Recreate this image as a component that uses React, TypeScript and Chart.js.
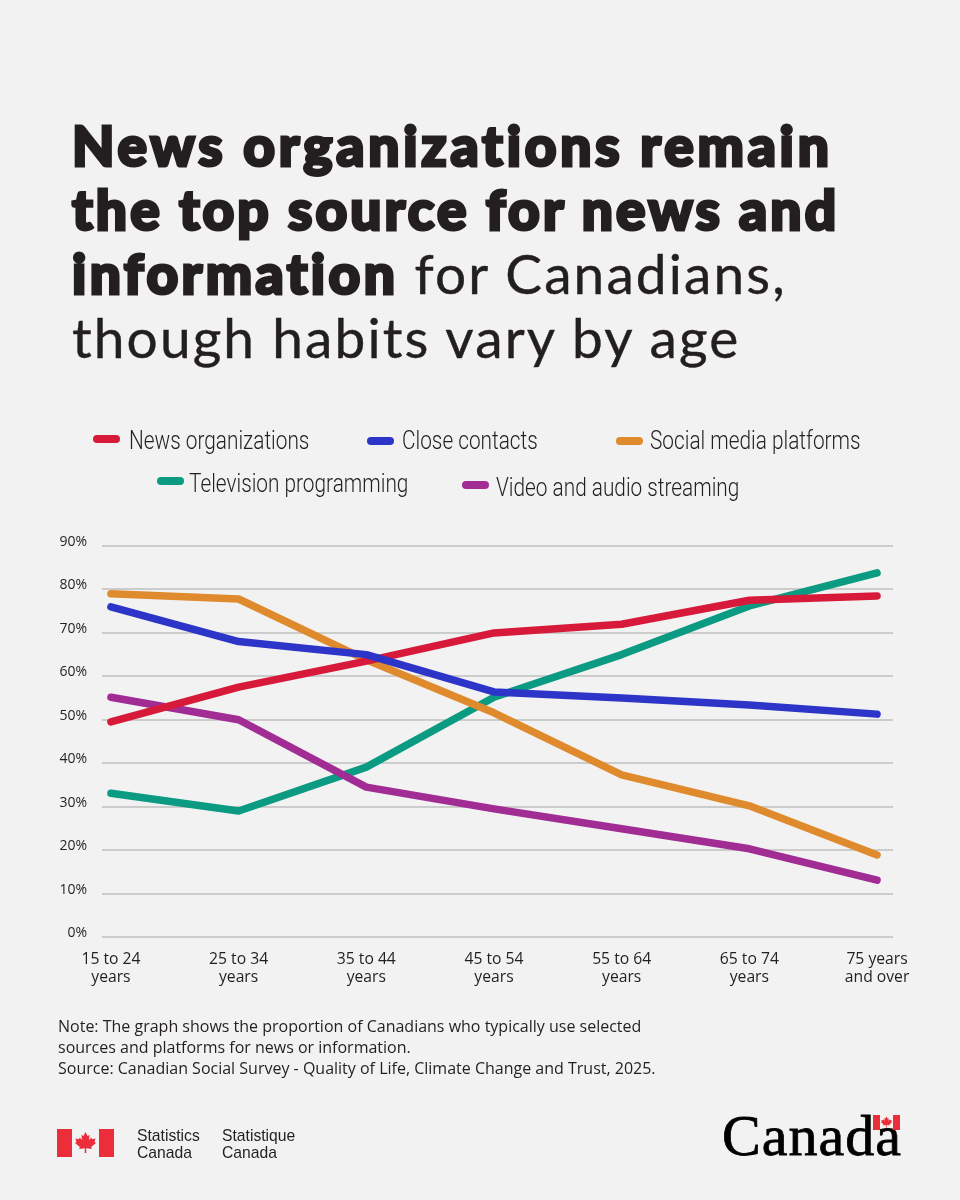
import React, { useEffect, useRef } from 'react';
import { Chart, registerables } from 'chart.js';

Chart.register(...registerables);

const ageGroups = [
  ['15 to 24', 'years'],
  ['25 to 34', 'years'],
  ['35 to 44', 'years'],
  ['45 to 54', 'years'],
  ['55 to 64', 'years'],
  ['65 to 74', 'years'],
  ['75 years', 'and over'],
];

const newsOrganizations = [49.5, 57.5, 63.5, 70, 72, 77.5, 78.5];
const closeContacts = [76, 68, 65, 56.4, 55, 53.4, 51.3];
const socialMedia = [79, 77.8, 63.8, 51.6, 37.3, 30.2, 18.9];
const television = [33.1, 29, 39.1, 55.2, 65, 76.2, 83.8];
const streaming = [55.2, 50, 34.5, 29.5, 24.9, 20.3, 13.1];

const BG = '#f2f2f2';
const TEXT = '#231f20';

// order: lower is painted on top in Chart.js
const series = [
  { label: 'News organizations', data: newsOrganizations, color: '#d71a3a', order: 1 },
  { label: 'Close contacts', data: closeContacts, color: '#2d34c8', order: 0 },
  { label: 'Social media platforms', data: socialMedia, color: '#e08a2e', order: 3 },
  { label: 'Television programming', data: television, color: '#0b9a82', order: 4 },
  { label: 'Video and audio streaming', data: streaming, color: '#a02c94', order: 2 },
];

// hand placed, the legend in the reference is not on a regular grid
const legendSpots = [
  { left: 93, top: 439, textLeft: 129, textTop: 440 },
  { left: 367, top: 441, textLeft: 402, textTop: 440 },
  { left: 616, top: 441, textLeft: 650, textTop: 440 },
  { left: 157, top: 481, textLeft: 189, textTop: 483 },
  { left: 462, top: 485, textLeft: 496, textTop: 487 },
];

const abs = (left: number, top: number): React.CSSProperties => ({ position: 'absolute', left, top });

const heavy = (spacing: number): React.CSSProperties => ({
  fontWeight: 900,
  WebkitTextStroke: '3px #231f20',
  letterSpacing: spacing,
});

const Leaf: React.FC<{ x: number; y: number; s: number }> = ({ x, y, s }) => (
  <path
    transform={`translate(${x} ${y}) scale(${s})`}
    fill="#ec2e3a"
    d="M0 -10 L2 -6.2 L4 -7.2 L3.2 -2.4 L5.6 -4.8 L6.2 -3.2 L9.6 -3.8 L8.6 -0.4 L10 0.4 L5.4 4.4 L6 6.2 L0.6 5.4 L0.8 10 L-0.8 10 L-0.6 5.4 L-6 6.2 L-5.4 4.4 L-10 0.4 L-8.6 -0.4 L-9.6 -3.8 L-6.2 -3.2 L-5.6 -4.8 L-3.2 -2.4 L-4 -7.2 L-2 -6.2 Z"
  />
);

const App: React.FC = () => {
  const chartRef = useRef<HTMLCanvasElement>(null);

  useEffect(() => {
    if (!chartRef.current) return;
    document.body.style.margin = '0';
    document.body.style.background = BG;

    const chart = new Chart(chartRef.current, {
      type: 'line',
      data: {
        datasets: series.map((s) => ({
          label: s.label,
          data: s.data.map((v, i) => ({ x: i, y: v })),
          order: s.order,
          borderColor: s.color,
          backgroundColor: s.color,
          borderWidth: 7.5,
          borderCapStyle: 'round',
          borderJoinStyle: 'round',
          pointRadius: 0,
          tension: 0,
          clip: false,
        })),
      },
      options: {
        responsive: false,
        animation: false,
        layout: { padding: { top: 546, right: 67, left: 0, bottom: 0 } },
        plugins: { legend: { display: false }, tooltip: { enabled: false } },
        scales: {
          x: {
            type: 'linear',
            min: -0.07,
            max: 6.125,
            afterBuildTicks: (axis: any) => {
              axis.ticks = ageGroups.map((_, i) => ({ value: i }));
            },
            afterFit: (axis: any) => {
              axis.height = 263;
            },
            border: { display: false },
            grid: { display: false },
            ticks: {
              autoSkip: false,
              maxRotation: 0,
              padding: 5,
              color: TEXT,
              font: { family: 'Open Sans', size: 15.7, lineHeight: 1.15 },
              callback: (v: any) => ageGroups[v as number],
            },
          },
          y: {
            min: 0,
            max: 90,
            afterFit: (axis: any) => {
              axis.width = 102;
            },
            border: { display: false },
            grid: { color: '#cccccc', lineWidth: 2, drawTicks: false },
            ticks: {
              stepSize: 10,
              padding: 15,
              labelOffset: -4,
              color: TEXT,
              font: { family: 'Open Sans', size: 14 },
              callback: (v: any) => `${v}%`,
            },
          },
        },
      },
    });

    return () => chart.destroy();
  }, []);

  return (
    <div style={{ position: 'relative', width: 960, height: 1200, background: BG, overflow: 'hidden', color: TEXT }}>
      <canvas ref={chartRef} width={960} height={1200} style={{ ...abs(0, 0), display: 'block' }} />

      <div
        style={{
          ...abs(72, 113),
          width: 860,
          fontFamily: 'Lato',
          fontSize: 55,
          lineHeight: '64px',
          letterSpacing: 2.1,
          WebkitTextStroke: '0.4px #231f20',
          whiteSpace: 'nowrap',
        }}
      >
        <span style={heavy(3.8)}>News organizations remain</span>
        <br />
        <span style={heavy(3.1)}>the top source for news and</span>
        <br />
        <span style={heavy(3.4)}>information</span> for Canadians,
        <br />
        though habits vary by age
      </div>

      {series.map((s, i) => (
        <React.Fragment key={s.label}>
          <div style={{ ...abs(legendSpots[i].left, legendSpots[i].top - 4), width: 27, height: 8, borderRadius: 4, background: s.color }} />
          <div
            style={{
              ...abs(legendSpots[i].textLeft, legendSpots[i].textTop - 15),
              fontFamily: 'Roboto',
              fontWeight: 300,
              fontSize: 26,
              lineHeight: '30px',
              whiteSpace: 'nowrap',
              transform: 'scaleX(0.8)',
              transformOrigin: 'left center',
            }}
          >
            {s.label}
          </div>
        </React.Fragment>
      ))}

      <div style={{ ...abs(58, 1016), fontFamily: 'Open Sans', fontSize: 16, lineHeight: '21px', whiteSpace: 'nowrap' }}>
        Note: The graph shows the proportion of Canadians who typically use selected
        <br />
        sources and platforms for news or information.
        <br />
        Source: Canadian Social Survey - Quality of Life, Climate Change and Trust, 2025.
      </div>

      <svg style={abs(57, 1129)} width={58} height={29} viewBox="0 0 58 29">
        <rect x={0} y={0} width={15} height={28} fill="#ec2e3a" />
        <rect x={42} y={0} width={15} height={28} fill="#ec2e3a" />
        <Leaf x={28.5} y={13.5} s={1.05} />
      </svg>
      <div style={{ ...abs(137, 1127), fontFamily: 'Liberation Sans', fontSize: 15.7, lineHeight: '17px' }}>
        Statistics
        <br />
        Canada
      </div>
      <div style={{ ...abs(222, 1127), fontFamily: 'Liberation Sans', fontSize: 15.7, lineHeight: '17px' }}>
        Statistique
        <br />
        Canada
      </div>

      <div
        style={{
          ...abs(722, 1102),
          fontFamily: 'Liberation Serif',
          fontSize: 58,
          lineHeight: '68px',
          color: '#000',
          letterSpacing: 1,
          WebkitTextStroke: '0.8px #000',
        }}
      >
        Canada
      </div>
      <svg style={abs(873, 1115)} width={28} height={15} viewBox="0 0 28 15">
        <rect x={0} y={0} width={7} height={15} fill="#ec2e3a" />
        <rect x={20} y={0} width={7} height={15} fill="#ec2e3a" />
        <Leaf x={13.5} y={7} s={0.55} />
      </svg>
    </div>
  );
};

export default App;
